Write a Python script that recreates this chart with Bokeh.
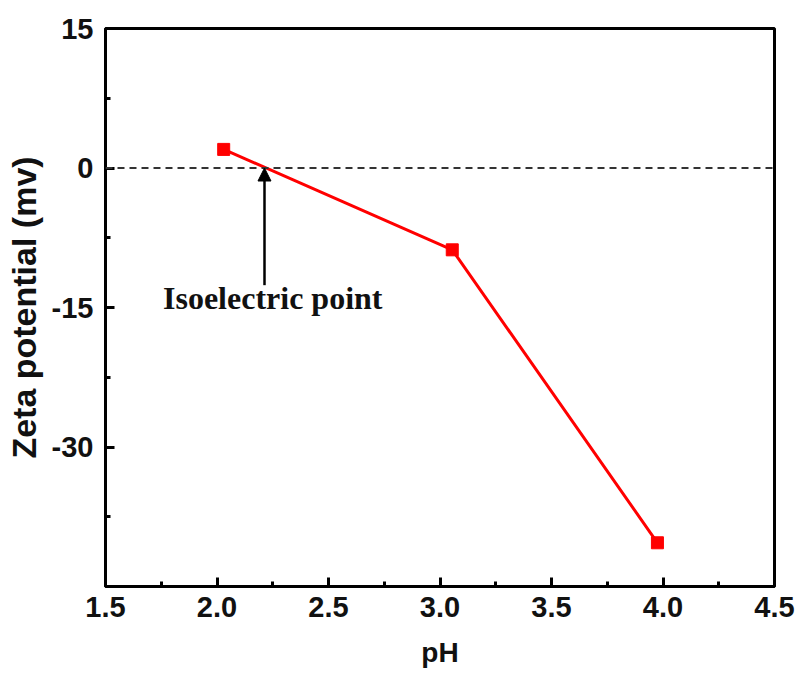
from bokeh.plotting import figure
from bokeh.models import (Span, Arrow, NormalHead, Label, FixedTicker,
                          ColumnDataSource, Range1d)
from bokeh.embed import file_html
from bokeh.resources import INLINE

# ---- data ----
ph = [2.03, 3.055, 3.975]
zeta = [2.0, -8.8, -40.3]

x_ticks = [1.5, 2.0, 2.5, 3.0, 3.5, 4.0, 4.5]
x_minor = [1.75, 2.25, 2.75, 3.25, 3.75, 4.25]
y_ticks = [-30, -15, 0, 15]
y_minor = [-37.5, -22.5, -7.5, 7.5]

iso_x = 2.213          # isoelectric point (pH)
iso_tail_y = -12.6     # arrow tail
iso_label = "Isoelectric point"
iso_label_x = 2.25
iso_label_y = -14.0

src = ColumnDataSource(dict(ph=ph, zeta=zeta))

p = figure(width=798, height=678, output_backend="svg", toolbar_location=None,
           x_range=Range1d(1.5, 4.5), y_range=Range1d(-45, 15),
           min_border_left=105, min_border_right=24,
           min_border_top=28, min_border_bottom=92)

p.background_fill_color = "white"
p.border_fill_color = "white"
p.outline_line_color = "black"
p.outline_line_width = 3
p.xgrid.visible = False
p.ygrid.visible = False

# zero line
p.add_layout(Span(location=0, dimension="width", line_color="#333333",
                  line_width=2, line_dash="7 5"))

p.line("ph", "zeta", source=src, line_color="#ff0000", line_width=3)
p.scatter("ph", "zeta", source=src, marker="square", size=12,
          fill_color="#ff0000", line_color="#ff0000")

p.add_layout(Arrow(end=NormalHead(size=13, fill_color="black", line_color="black"),
                   x_start=iso_x, y_start=iso_tail_y, x_end=iso_x, y_end=0,
                   line_color="black", line_width=2.5))
p.add_layout(Label(x=iso_label_x, y=iso_label_y, text=iso_label,
                   text_font="Liberation Serif", text_font_style="bold",
                   text_font_size="32px", text_align="center",
                   text_baseline="middle", text_color="#111111"))

for ax in (p.xaxis[0], p.yaxis[0]):
    ax.axis_line_width = 3
    ax.axis_line_color = "black"
    ax.major_tick_in = 9
    ax.major_tick_out = 0
    ax.minor_tick_in = 5
    ax.minor_tick_out = 0
    ax.major_tick_line_width = 3
    ax.minor_tick_line_width = 3
    ax.major_label_text_font = "Liberation Sans"
    ax.major_label_text_font_style = "bold"
    ax.major_label_text_font_size = "29px"
    ax.major_label_text_color = "#111111"
    ax.axis_label_text_font = "Liberation Sans"
    ax.axis_label_text_font_style = "bold"
    ax.axis_label_text_color = "#111111"

p.xaxis[0].ticker = FixedTicker(ticks=x_ticks, minor_ticks=x_minor)
p.xaxis[0].major_label_overrides = {t: f"{t:.1f}" for t in x_ticks}
p.xaxis[0].axis_label = "pH"
p.xaxis[0].axis_label_text_font_size = "28px"
p.xaxis[0].major_label_standoff = 10
p.xaxis[0].axis_label_standoff = 17

p.yaxis[0].ticker = FixedTicker(ticks=y_ticks, minor_ticks=y_minor)
p.yaxis[0].major_label_overrides = {t: str(t) for t in y_ticks}
p.yaxis[0].axis_label = "Zeta potential (mv)"
p.yaxis[0].axis_label_text_font_size = "34px"
p.yaxis[0].major_label_standoff = 12
p.yaxis[0].axis_label_standoff = 6

open("out.html", "w").write(file_html(p, INLINE))
